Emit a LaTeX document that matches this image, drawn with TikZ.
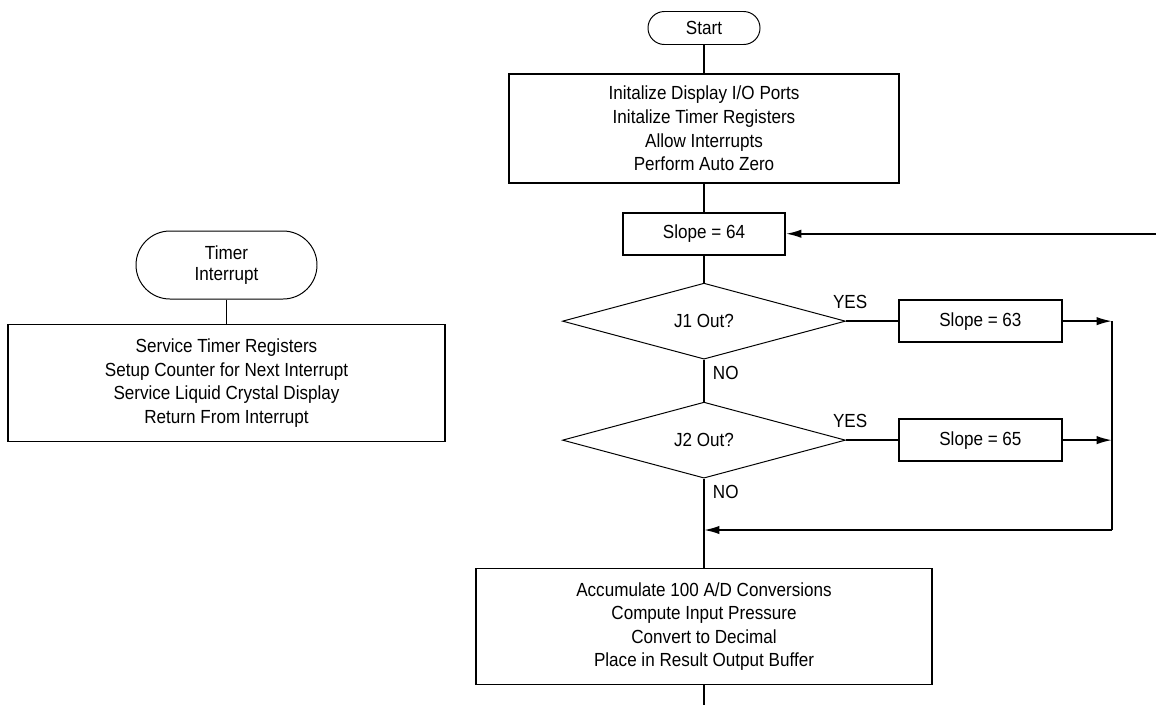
\documentclass[tikz,border=0pt]{standalone}
\usepackage{fontspec}
\setmainfont{Liberation Sans}[FakeStretch=0.9]
\usetikzlibrary{positioning,shapes.geometric,arrows.meta}
\tikzset{
  pbox/.style={rectangle,draw,line width=1.3pt,align=center,
    minimum width=#1,minimum height=1.05cm,inner sep=0pt},
  pbox/.default=4.05cm,
  term/.style={rectangle,rounded corners=#1,draw,line width=0.7pt,
    align=center,inner sep=0pt},
  term/.default=0.41cm,
  decision/.style={diamond,draw,line width=0.7pt,minimum width=7.075cm,
    minimum height=1.9cm,inner sep=0pt},
  line/.style={draw,line width=1.3pt},
  arrow/.style={line,-{Latex[length=11pt,width=6pt]}},
  lbl/.style={inner sep=0pt}
}
\begin{document}
\begin{tikzpicture}[font=\fontsize{13.5}{16.8}\selectfont]
  \useasboundingbox (0,0) rectangle (28.9,-17.625);
  % main program
  \node[term, minimum width=2.8cm, minimum height=0.825cm] (start) at (17.6,-0.7) {Start};
  \node[pbox=9.75cm, minimum height=2.725cm, below=0.7cm of start] (init)
    {Initalize Display I/O Ports\\Initalize Timer Registers\\Allow Interrupts\\Perform Auto Zero};
  \node[pbox, below=0.7cm of init] (s64) {Slope = 64};
  \node[decision, below=0.675cm of s64] (j1) {J1 Out?};
  \node[decision, below=1.05cm of j1] (j2) {J2 Out?};
  \node[pbox=4.075cm, right=1.3cm of j1] (s63) {Slope = 63};
  \node[pbox=4.075cm, right=1.3cm of j2] (s65) {Slope = 65};
  \node[pbox=11.4cm, minimum height=2.9cm, below=2.225cm of j2] (acc)
    {Accumulate 100 A/D Conversions\\Compute Input Pressure\\Convert to Decimal\\Place in Result Output Buffer};
  \coordinate (rail) at (27.8,0);
  \coordinate (edge) at (28.9,0);
  \coordinate (merge) at (27.8,-13.25);
  \coordinate (tail) at (17.6,-17.625);

  \draw[line] (start) -- (init);
  \draw[line] (init) -- (s64);
  \draw[line] (s64) -- (j1);
  \draw[line] (j1) -- node[lbl, anchor=base west, pos=0, xshift=0.2cm, yshift=-0.5cm] {NO} (j2);
  \draw[line] (j2) -- node[lbl, anchor=base west, pos=0, xshift=0.2cm, yshift=-0.5cm] {NO} (acc);
  \draw[line] (j1) -- node[lbl, anchor=base, pos=0.08, yshift=0.325cm] {YES} (s63);
  \draw[line] (j2) -- node[lbl, anchor=base, pos=0.08, yshift=0.325cm] {YES} (s65);
  \draw[arrow] (s63) -- (s63 -| rail);
  \draw[arrow] (s65) -- (s65 -| rail);
  \draw[line] (s63 -| rail) -- (merge);
  \draw[arrow] (merge) -- (merge -| acc);
  \draw[arrow] (s64 -| edge) -- (s64);
  \draw[line] (acc) -- (tail);

  % interrupt routine
  \node[term=0.85cm, minimum width=4.525cm, minimum height=1.7cm, font=\fontsize{13.5}{15.5}\selectfont]
    (timer) at (5.6625,-6.625) {Timer\\Interrupt};
  \node[pbox=10.925cm, minimum height=2.925cm, below=0.6cm of timer] (tbox)
    {Service Timer Registers\\Setup Counter for Next Interrupt\\Service Liquid Crystal Display\\Return From Interrupt};
  \draw[line] (timer) -- (tbox);
\end{tikzpicture}
\end{document}
